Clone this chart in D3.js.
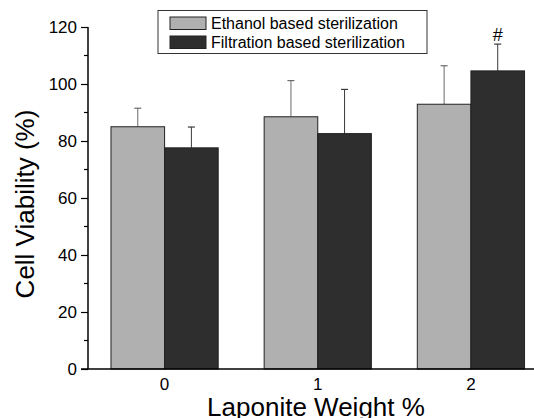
<!DOCTYPE html>
<html><head><meta charset="utf-8">
<script src="https://cdn.jsdelivr.net/npm/d3@7"></script>
<style>body{margin:0;background:#fff}svg{display:block}text{font-family:"Liberation Sans",Arial,sans-serif;fill:#000}</style>
</head><body>
<svg id="c" width="534" height="418"></svg>
<script>
const categories = ["0", "1", "2"];
const seriesNames = ["Ethanol based sterilization", "Filtration based sterilization"];
const ethanolValues = [85.0, 88.5, 92.9];
const ethanolErrors = [6.5, 12.7, 13.5];
const filtrationValues = [77.6, 82.6, 104.6];
const filtrationErrors = [7.3, 15.5, 9.4];
const yTicks = [0, 20, 40, 60, 80, 100, 120];
const yMinorTicks = [10, 30, 50, 70, 90, 110];
const annotations = [{cat: "2", series: 1, text: "#"}];

(function () {
const colors = ["#b0b0b0", "#2e2e2e"];
const errColors = ["#6a6a6a", "#3a3a3a"];
const svg = d3.select("#c");
const mLeft = 88, mBottom = 369, mTop = 27;
const y = d3.scaleLinear().domain([0, 120]).range([mBottom, mTop]);
const x = d3.scaleBand().domain(categories).range([mLeft, 547.5]).paddingInner(0.3).paddingOuter(0.15);
const xs = d3.scaleBand().domain([0, 1]).range([0, x.bandwidth()]);

const series = [
  {vals: ethanolValues, errs: ethanolErrors},
  {vals: filtrationValues, errs: filtrationErrors}
];
series.forEach((s, si) => {
  const g = svg.append("g");
  categories.forEach((c, i) => {
    const x0 = x(c) + xs(si), w = xs.bandwidth();
    const cx = x0 + w / 2;
    g.append("line").attr("x1", cx).attr("x2", cx).attr("y1", y(s.vals[i])).attr("y2", y(s.vals[i] + s.errs[i]))
      .attr("stroke", errColors[si]).attr("stroke-width", 1);
    g.append("line").attr("x1", cx - 3.5).attr("x2", cx + 3.5).attr("y1", y(s.vals[i] + s.errs[i])).attr("y2", y(s.vals[i] + s.errs[i]))
      .attr("stroke", errColors[si]).attr("stroke-width", 1.2);
    g.append("rect").attr("x", x0).attr("y", y(s.vals[i])).attr("width", w).attr("height", y(0) - y(s.vals[i]))
      .attr("fill", colors[si]).attr("stroke", "#222").attr("stroke-width", 1);
  });
});

annotations.forEach(a => {
  const si = a.series, i = categories.indexOf(a.cat);
  const s = series[si];
  svg.append("text").attr("x", x(a.cat) + xs(si) + xs.bandwidth() / 2).attr("y", y(s.vals[i] + s.errs[i]) - 3)
    .attr("text-anchor", "middle").attr("font-size", 18).text(a.text);
});

const ya = svg.append("g").attr("transform", `translate(${mLeft},0)`)
  .call(d3.axisLeft(y).tickValues(yTicks).tickSize(7).tickPadding(4).tickFormat(d3.format("d")));
ya.selectAll("text").attr("font-size", 17).attr("font-family", "Liberation Sans, Arial, sans-serif").attr("fill", "#000");
ya.select(".domain").attr("d", `M0,${y(0)}V${y(120)}`).attr("stroke", "#000").attr("stroke-width", 1.5);
ya.selectAll(".tick line").attr("stroke", "#000").attr("stroke-width", 1.2);
svg.append("g").selectAll("line").data(yMinorTicks).join("line")
  .attr("x1", mLeft - 4).attr("x2", mLeft).attr("y1", d => y(d)).attr("y2", d => y(d))
  .attr("stroke", "#000").attr("stroke-width", 1.2);

const xa = svg.append("g").attr("transform", `translate(0,${mBottom})`)
  .call(d3.axisBottom(x).tickSize(0).tickPadding(9));
xa.select(".domain").attr("d", `M${mLeft - 7},0H534`).attr("stroke", "#000").attr("stroke-width", 1.5);
xa.selectAll("text").attr("font-size", 17).attr("font-family", "Liberation Sans, Arial, sans-serif").attr("fill", "#000");

svg.append("text").attr("transform", `translate(34,204) rotate(-90)`).attr("text-anchor", "middle")
  .attr("font-size", 26).text("Cell Viability (%)");
svg.append("text").attr("x", 316).attr("y", 416).attr("text-anchor", "middle")
  .attr("font-size", 26).text("Laponite Weight %");

const lg = svg.append("g");
lg.append("rect").attr("x", 158).attr("y", 10.5).attr("width", 269).attr("height", 43)
  .attr("fill", "#fff").attr("stroke", "#333").attr("stroke-width", 1);
seriesNames.forEach((n, i) => {
  lg.append("rect").attr("x", 170).attr("y", 17 + i * 19).attr("width", 36).attr("height", 12.5)
    .attr("fill", colors[i]).attr("stroke", "#222").attr("stroke-width", 1);
  lg.append("text").attr("x", 211).attr("y", 29 + i * 19).attr("font-size", 16).text(n);
});
})();
</script>
</body></html>
